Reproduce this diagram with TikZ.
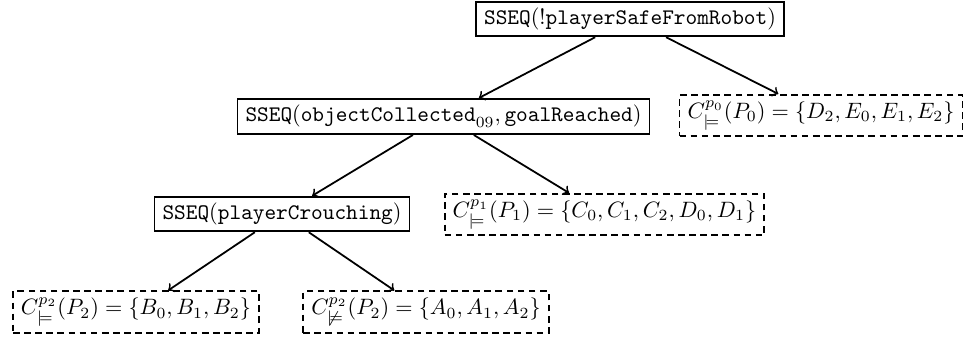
\documentclass[tikz,border=0pt]{standalone}
\usepackage{amssymb}
\begin{document}
\begin{tikzpicture}[x=0.45pt,y=-0.45pt,
  cond/.style={draw, line width=0.8pt, inner xsep=3.6pt, inner ysep=2.8pt},
  setbox/.style={draw, line width=0.8pt, dash pattern=on 3pt off 2pt, inner xsep=3.6pt, inner ysep=2.8pt},
  link/.style={line width=0.8pt, ->}]
\useasboundingbox (0,0) rectangle (969,340);
% formula nodes of the tree
\node[cond] (root) at (630,19) {$\mathtt{SSEQ}(\mathtt{!playerSafeFromRobot})$};
\node[cond] (obj) at (443.5,116.5) {$\mathtt{SSEQ}(\mathtt{objectCollected}_{09},\mathtt{goalReached})$};
\node[cond] (crouch) at (282,214) {$\mathtt{SSEQ}(\mathtt{playerCrouching})$};
% sets of satisfying / violating configurations
\node[setbox] (s0) at (821,115.5) {$C^{p_0}_{\models}(P_0)=\{D_2,E_0,E_1,E_2\}$};
\node[setbox] (s1) at (604.5,214.5) {$C^{p_1}_{\models}(P_1)=\{C_0,C_1,C_2,D_0,D_1\}$};
\node[setbox] (s2a) at (136,312) {$C^{p_2}_{\models}(P_2)=\{B_0,B_1,B_2\}$};
\node[setbox] (s2b) at (426,312) {$C^{p_2}_{\not\models}(P_2)=\{A_0,A_1,A_2\}$};
% edges
\draw[link] (root) -- (obj);
\draw[link] (root) -- (s0);
\draw[link] (obj) -- (crouch);
\draw[link] (obj) -- (s1);
\draw[link] (crouch) -- (s2a);
\draw[link] (crouch) -- (s2b);
\end{tikzpicture}
\end{document}
